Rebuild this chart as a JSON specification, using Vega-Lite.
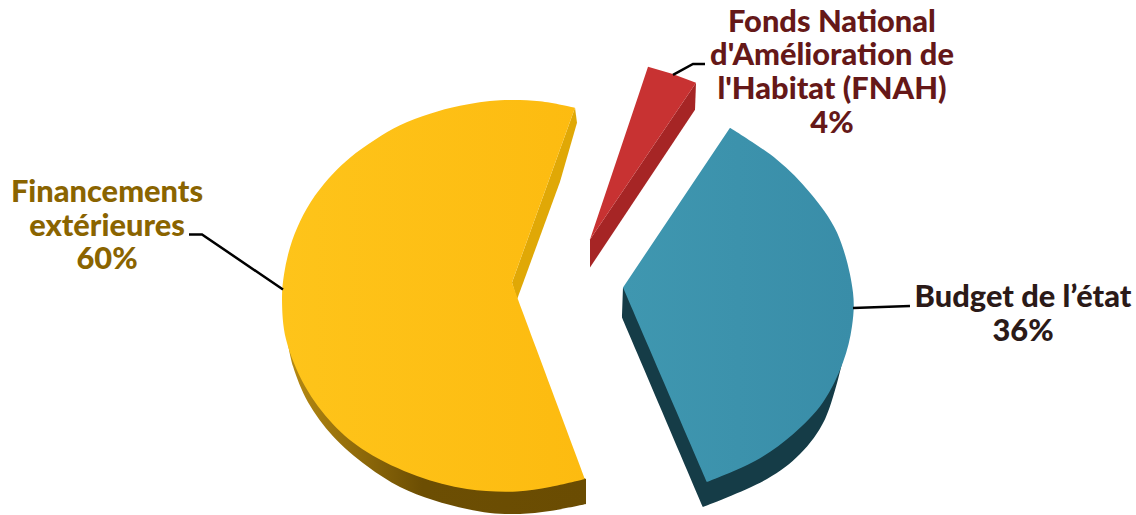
{"$schema":"https://vega.github.io/schema/vega-lite/v6.json","width":1136,"height":515,"autosize":{"type":"fit","contains":"padding"},"padding":0,"background":"white","config":{"view":{"stroke":null}},
"datasets":{
"outline":[
{"piece":"yr","order":1,"x":288,"y":345},{"piece":"yr","order":2,"x":293,"y":367},{"piece":"yr","order":3,"x":308,"y":403},{"piece":"yr","order":4,"x":333,"y":437},{"piece":"yr","order":5,"x":367,"y":467},{"piece":"yr","order":6,"x":400,"y":488},{"piece":"yr","order":7,"x":433,"y":501},{"piece":"yr","order":8,"x":467,"y":510},{"piece":"yr","order":9,"x":490,"y":514},{"piece":"yr","order":10,"x":520,"y":515},{"piece":"yr","order":11,"x":550,"y":512},{"piece":"yr","order":12,"x":586,"y":505},{"piece":"yr","order":13,"x":586,"y":505},{"piece":"yr","order":14,"x":586,"y":480},{"piece":"yr","order":15,"x":586,"y":480},{"piece":"yr","order":16,"x":520,"y":440},{"piece":"yr","order":17,"x":400,"y":400},
{"piece":"ys","order":1,"x":575,"y":108},{"piece":"ys","order":2,"x":577,"y":123},{"piece":"ys","order":3,"x":560,"y":182},{"piece":"ys","order":4,"x":528,"y":270},{"piece":"ys","order":5,"x":517,"y":300},{"piece":"ys","order":6,"x":512,"y":283},
{"piece":"yf","order":1,"x":575,"y":108},{"piece":"yf","order":2,"x":575,"y":108},{"piece":"yf","order":3,"x":540,"y":101.5},{"piece":"yf","order":4,"x":500,"y":100.5},{"piece":"yf","order":5,"x":460,"y":106},{"piece":"yf","order":6,"x":430,"y":114},{"piece":"yf","order":7,"x":400,"y":125.5},{"piece":"yf","order":8,"x":375,"y":140},{"piece":"yf","order":9,"x":350,"y":158},{"piece":"yf","order":10,"x":333,"y":174},{"piece":"yf","order":11,"x":315,"y":196},{"piece":"yf","order":12,"x":300,"y":222},{"piece":"yf","order":13,"x":290,"y":248},{"piece":"yf","order":14,"x":284,"y":275},{"piece":"yf","order":15,"x":282,"y":300},{"piece":"yf","order":16,"x":286,"y":340},{"piece":"yf","order":17,"x":305,"y":387},{"piece":"yf","order":18,"x":333,"y":425},{"piece":"yf","order":19,"x":367,"y":453},{"piece":"yf","order":20,"x":417,"y":477},{"piece":"yf","order":21,"x":467,"y":490},{"piece":"yf","order":22,"x":517,"y":492.5},{"piece":"yf","order":23,"x":550,"y":488},{"piece":"yf","order":24,"x":585,"y":480},{"piece":"yf","order":25,"x":585,"y":480},{"piece":"yf","order":26,"x":518,"y":300},{"piece":"yf","order":27,"x":518,"y":300},{"piece":"yf","order":28,"x":512,"y":283},{"piece":"yf","order":29,"x":512,"y":283},
{"piece":"bs","order":1,"x":623,"y":288},{"piece":"bs","order":2,"x":623,"y":288},{"piece":"bs","order":3,"x":622,"y":318},{"piece":"bs","order":4,"x":622,"y":318},{"piece":"bs","order":5,"x":703,"y":508},{"piece":"bs","order":6,"x":703,"y":508},{"piece":"bs","order":7,"x":767,"y":480},{"piece":"bs","order":8,"x":800,"y":455},{"piece":"bs","order":9,"x":825,"y":420},{"piece":"bs","order":10,"x":843,"y":360},{"piece":"bs","order":11,"x":843,"y":360},{"piece":"bs","order":12,"x":760,"y":400},{"piece":"bs","order":13,"x":760,"y":400},
{"piece":"bf","order":1,"x":730,"y":128},{"piece":"bf","order":2,"x":730,"y":128},{"piece":"bf","order":3,"x":777,"y":160},{"piece":"bf","order":4,"x":810,"y":193},{"piece":"bf","order":5,"x":837,"y":233},{"piece":"bf","order":6,"x":853,"y":293},{"piece":"bf","order":7,"x":852,"y":327},{"piece":"bf","order":8,"x":843,"y":363},{"piece":"bf","order":9,"x":823,"y":403},{"piece":"bf","order":10,"x":793,"y":435},{"piece":"bf","order":11,"x":755,"y":462},{"piece":"bf","order":12,"x":707,"y":483},{"piece":"bf","order":13,"x":707,"y":483},{"piece":"bf","order":14,"x":623,"y":288},{"piece":"bf","order":15,"x":623,"y":288},
{"piece":"rs","order":1,"x":696,"y":83},{"piece":"rs","order":2,"x":695,"y":110},{"piece":"rs","order":3,"x":590,"y":268},{"piece":"rs","order":4,"x":590,"y":240},
{"piece":"rf","order":1,"x":648,"y":67},{"piece":"rf","order":2,"x":672,"y":74},{"piece":"rf","order":3,"x":696,"y":83},{"piece":"rf","order":4,"x":590,"y":240},{"piece":"rf","order":5,"x":638,"y":97},
{"piece":"ly","order":1,"x":283,"y":290},{"piece":"ly","order":2,"x":202,"y":235},{"piece":"ly","order":3,"x":189,"y":235},
{"piece":"lr","order":1,"x":673,"y":75},{"piece":"lr","order":2,"x":693,"y":64},{"piece":"lr","order":3,"x":705,"y":64},
{"piece":"lb","order":1,"x":853,"y":308.5},{"piece":"lb","order":2,"x":910,"y":306.5}
],
"labels":[
{"slice":"Financements extérieures","line":"Financements","x":107,"y":202},{"slice":"Financements extérieures","line":"extérieures","x":107,"y":236},{"slice":"Financements extérieures","line":"60%","x":107,"y":270},
{"slice":"FNAH","line":"Fonds National","x":832,"y":32},{"slice":"FNAH","line":"d'Amélioration de","x":832,"y":65},{"slice":"FNAH","line":"l'Habitat (FNAH)","x":832,"y":99},{"slice":"FNAH","line":"4%","x":832,"y":133},
{"slice":"Budget de l’état","line":"Budget de l’état","x":1023,"y":308},{"slice":"Budget de l’état","line":"36%","x":1023,"y":342}
]},
"encoding":{"x":{"field":"x","type":"quantitative","axis":null,"scale":{"domain":[0,1136]}},"y":{"field":"y","type":"quantitative","axis":null,"scale":{"domain":[515,0]}},"order":{"field":"order","type":"quantitative"}},
"data":{"name":"outline"},
"layer":[
{"transform":[{"filter":"datum.piece==='yr'"}],"mark":{"type":"line","interpolate":"catmull-rom","stroke":null,"fill":{"gradient":"linear","x1":0,"x2":1,"y1":0,"y2":0,"stops":[{"offset":0,"color":"#b78a12"},{"offset":0.45,"color":"#6c4e03"},{"offset":1,"color":"#6a4c02"}]}}},
{"transform":[{"filter":"datum.piece==='ys'"}],"mark":{"type":"line","stroke":null,"fill":"#e0a806"}},
{"transform":[{"filter":"datum.piece==='yf'"}],"mark":{"type":"line","interpolate":"catmull-rom","stroke":null,"fill":{"gradient":"linear","x1":0,"x2":1,"y1":0,"y2":0,"stops":[{"offset":0,"color":"#fec41a"},{"offset":1,"color":"#fdbb10"}]}}},
{"transform":[{"filter":"datum.piece==='bs'"}],"mark":{"type":"line","interpolate":"catmull-rom","stroke":null,"fill":"#153c47"}},
{"transform":[{"filter":"datum.piece==='bf'"}],"mark":{"type":"line","interpolate":"catmull-rom","stroke":null,"fill":{"gradient":"linear","x1":0,"x2":1,"y1":0,"y2":0,"stops":[{"offset":0,"color":"#3f97b0"},{"offset":1,"color":"#398da8"}]}}},
{"transform":[{"filter":"datum.piece==='rs'"}],"mark":{"type":"line","stroke":null,"fill":"#a62525"}},
{"transform":[{"filter":"datum.piece==='rf'"}],"mark":{"type":"line","stroke":null,"fill":"#c83232"}},
{"transform":[{"filter":"datum.piece==='ly'"}],"mark":{"type":"line","stroke":"black","strokeWidth":2.5}},
{"transform":[{"filter":"datum.piece==='lr'"}],"mark":{"type":"line","stroke":"black","strokeWidth":2.5}},
{"transform":[{"filter":"datum.piece==='lb'"}],"mark":{"type":"line","stroke":"black","strokeWidth":2.5}},
{"data":{"name":"labels"},"mark":{"type":"text","font":"Lato","fontWeight":900,"fontSize":30.8,"align":"center","baseline":"alphabetic"},"encoding":{"text":{"field":"line"},"order":{"value":null},"color":{"field":"slice","legend":null,"scale":{"domain":["Financements extérieures","FNAH","Budget de l’état"],"range":["#8a6400","#651818","#2b1a18"]}}}}
]}
